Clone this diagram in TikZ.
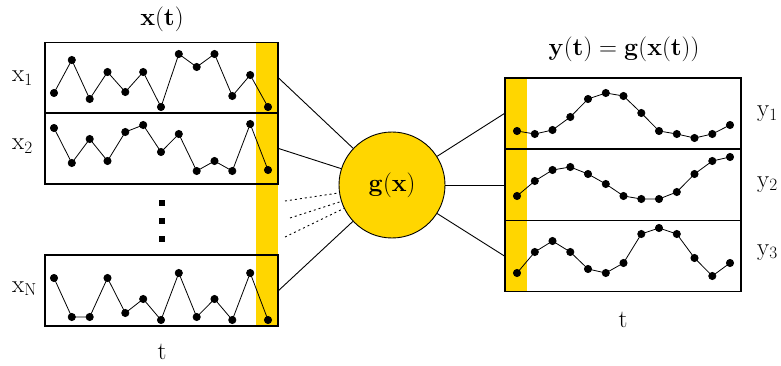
\documentclass[tikz,border=0pt]{standalone}
\usepackage{xcolor}
\usetikzlibrary{positioning}
\definecolor{gold}{RGB}{255,214,0}

\begin{document}
\begin{tikzpicture}[x=1pt,y=-1pt,
  panel/.style={draw,line width=1.2pt,minimum width=233pt,minimum height=71pt,inner sep=0pt},
  lab/.style={inner sep=0pt,font=\fontsize{27}{31}\selectfont},
  ttl/.style={inner sep=0pt,font=\fontsize{25}{29}\selectfont},
  trace/.style={line width=0.8pt,mark=*,mark size=3.6pt},
  vdot/.style={fill,inner sep=0pt,minimum size=6pt},
  link/.style={line width=0.9pt}]
\useasboundingbox (0,0) rectangle (781,366);
% left: input series
\fill[gold] (256,43) rectangle (278,326);
\node[panel] (x1) at (161.5,78) {};
\node[panel] (x2) at (161.5,148.5) {};
\node[panel] (xN) at (161.5,290.5) {};
\node[vdot] (e1) at (162,203) {};
\node[vdot] (e2) at (162,221) {};
\node[vdot] (e3) at (162,239) {};
\draw[trace] plot coordinates {(54,93) (71.8,60) (89.7,99) (107.5,72) (125.3,92) (143.2,72) (161,107)
  (178.8,54) (196.7,67) (214.5,54) (232.3,96) (250.2,75) (268,107)};
\draw[trace] plot coordinates {(54,128) (71.8,163) (89.7,139) (107.5,161) (125.3,132) (143.2,125) (161,152)
  (178.8,134) (196.7,171) (214.5,161) (232.3,171) (250.2,124) (268,170)};
\draw[trace] plot coordinates {(54,278) (71.8,317) (89.7,317) (107.5,278) (125.3,313) (143.2,299) (161,320)
  (178.8,273) (196.7,317) (214.5,299) (232.3,320) (250.2,273) (268,320)};
\node[lab,anchor=base west] (lx1) at (12,82) {$\mathrm{x}_1$};
\node[lab,anchor=base west] (lx2) at (12,150) {$\mathrm{x}_2$};
\node[lab,anchor=base west] (lxN) at (12,292) {$\mathrm{x}_\mathrm{N}$};
\node[ttl,anchor=base] (xt) at (162,26) {$\mathbf{x}(\mathbf{t})$};
\node[lab,anchor=base,font=\fontsize{25}{29}\selectfont] (tl) at (162,359) {t};
% right: output series
\fill[gold] (505,78) rectangle (527,291);
\node[panel,minimum width=236pt] (y1) at (623,113.5) {};
\node[panel,minimum width=236pt] (y2) at (623,185) {};
\node[panel,minimum width=236pt] (y3) at (623,256) {};
\draw[trace] plot coordinates {(517,131) (534.8,134) (552.5,130) (570.3,117) (588,99) (605.8,93) (623.5,96)
  (641.3,113) (659,131) (676.8,134) (694.5,138) (712.3,134) (730,125)};
\draw[trace] plot coordinates {(517,196) (534.8,181) (552.5,170) (570.3,167) (588,174) (605.8,184) (623.5,196)
  (641.3,199) (659,199) (676.8,192) (694.5,174) (712.3,161) (730,157)};
\draw[trace] plot coordinates {(517,273) (534.8,252) (552.5,241) (570.3,252) (588,269) (605.8,273) (623.5,263)
  (641.3,234) (659,228) (676.8,234) (694.5,258) (712.3,276) (730,263)};
\node[lab,anchor=base west] (ly1) at (757,117) {$\mathrm{y}_1$};
\node[lab,anchor=base west] (ly2) at (757,187) {$\mathrm{y}_2$};
\node[lab,anchor=base west] (ly3) at (757,255) {$\mathrm{y}_3$};
\node[ttl,anchor=base] (yt) at (624,56) {$\mathbf{y}(\mathbf{t}) = \mathbf{g}(\mathbf{x}(\mathbf{t}))$};
\node[lab,anchor=base,font=\fontsize{25}{29}\selectfont] (tr) at (623,327) {t};
% middle: mapping
\node[circle,draw,fill=gold,line width=0.9pt,minimum size=106pt,inner sep=0pt,
  font=\fontsize{24}{28}\selectfont] (g) at (392,185) {$\mathbf{g}(\mathbf{x})$};
\coordinate (d1) at (285,201);
\coordinate (d2) at (290,218);
\coordinate (d3) at (285,237);
\draw[link] (x1.east) -- (g);
\draw[link] (x2.east) -- (g);
\draw[link] (xN.east) -- (g);
\draw[link,dash pattern=on 2pt off 3pt] (d1) -- (g);
\draw[link,dash pattern=on 2pt off 3pt] (d2) -- (g);
\draw[link,dash pattern=on 2pt off 3pt] (d3) -- (g);
\draw[link] (g) -- (y1.west);
\draw[link] (g) -- (y2.west);
\draw[link] (g) -- (y3.west);
\end{tikzpicture}
\end{document}
